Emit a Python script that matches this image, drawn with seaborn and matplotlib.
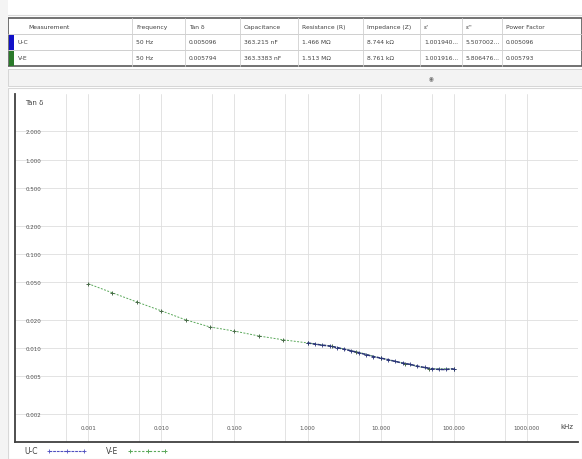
import matplotlib
matplotlib.use("Agg")
import matplotlib.pyplot as plt
from matplotlib.patches import Rectangle
from matplotlib.ticker import FixedLocator, FormatStrFormatter, NullFormatter
import seaborn as sns
import pandas as pd

# ---------------- data ----------------
table_headers = ["Measurement", "Frequency", "Tan δ", "Capacitance", "Resistance (R)",
                 "Impedance (Z)", "ε'", "ε''", "Power Factor"]
row_uc = ["U-C", "50 Hz", "0.005096", "363.215 nF", "1.466 MΩ", "8.744 kΩ",
          "1.001940...", "5.507002...", "0.005096"]
row_ve = ["V-E", "50 Hz", "0.005794", "363.3383 nF", "1.513 MΩ", "8.761 kΩ",
          "1.001916...", "5.806476...", "0.005793"]

# V-E series (frequency in kHz, Tan δ)
ve_freq = [0.001, 0.00215, 0.00464, 0.01, 0.0215, 0.0464, 0.1, 0.215, 0.464, 1.0,
           2.15, 4.64, 10.0, 21.5, 46.4, 100.0]
ve_tan = [0.0482, 0.0385, 0.0308, 0.0248, 0.0199, 0.0167, 0.0151, 0.0134, 0.0122, 0.0113,
          0.0104, 0.0091, 0.0078, 0.0068, 0.0060, 0.0060]

# U-C series (dense sweep at higher frequency)
uc_freq = [1.0, 1.26, 1.58, 2.0, 2.51, 3.16, 3.98, 5.01, 6.31, 7.94, 10.0,
           12.6, 15.8, 20.0, 25.1, 31.6, 39.8, 50.1, 63.1, 79.4, 100.0]
uc_tan = [0.0113, 0.0110, 0.0107, 0.0105, 0.0101, 0.0097, 0.0093, 0.0089, 0.0085, 0.0081,
          0.0078, 0.0075, 0.0072, 0.0069, 0.0067, 0.0064, 0.0062, 0.0060, 0.0059, 0.0059,
          0.0060]

y_ticks = [0.002, 0.005, 0.01, 0.02, 0.05, 0.1, 0.2, 0.5, 1.0, 2.0]
x_major = [0.001, 0.01, 0.1, 1.0, 10.0, 100.0, 1000.0]
x_minor = [0.0005, 0.005, 0.05, 0.5, 5.0, 50.0, 500.0]

# ---------------- figure ----------------
sns.set_theme(style="white")
plt.rcParams['font.family'] = ['DejaVu Sans']
W, H = 582, 460
fig = plt.figure(figsize=(W / 100, H / 100), dpi=100)
fig.patch.set_facecolor("white")

# UI layer in pixel coordinates
ui = fig.add_axes([0, 0, 1, 1], zorder=0)
ui.set_xlim(0, W)
ui.set_ylim(H, 0)
ui.axis("off")

ui.plot([8, W], [16, 16], color="#d8d8d8", lw=0.8)
ui.add_patch(Rectangle((8, 19), W - 8, 48, facecolor="white", edgecolor="#5a5a5a", lw=1.2))
col_x = [8, 132, 185, 240, 298, 363, 420, 462, 502, W]
row_y = [19, 35, 51, 67]
for yy in row_y[1:-1]:
    ui.plot([8, W], [yy, yy], color="#c8c8c8", lw=0.6)
for xx in col_x[1:-1]:
    ui.plot([xx, xx], [19, 67], color="#d0d0d0", lw=0.6)
ui.add_patch(Rectangle((8.5, 36), 5, 14.5, facecolor="#1010c8", edgecolor="none"))
ui.add_patch(Rectangle((8.5, 51.5), 5, 15, facecolor="#2a7a2a", edgecolor="none"))

fs = 4.3
for i, h in enumerate(table_headers):
    x0 = col_x[i] + (20 if i == 0 else 4)
    ui.text(x0, 27.5, h, fontsize=fs, color="#404040", va="center", ha="left")
for r, row in enumerate([row_uc, row_ve]):
    yc = 43 + r * 16
    for i, v in enumerate(row):
        x0 = col_x[i] + (10 if i == 0 else 4)
        ui.text(x0, yc, v, fontsize=fs, color="#404040", va="center", ha="left")

ui.add_patch(Rectangle((8, 70), W - 8, 17, facecolor="#f3f3f3", edgecolor="#d0d0d0", lw=0.6))
ui.text(431, 78.5, "◉", fontsize=4, color="#707070", ha="center", va="center")
ui.add_patch(Rectangle((8, 89), W - 8, H - 89, facecolor="white", edgecolor="#d8d8d8", lw=0.8))
ui.add_patch(Rectangle((0, 0), 8, H, facecolor="#f4f4f4", edgecolor="none"))

# ---------------- chart ----------------
ax = fig.add_axes([15 / W, (H - 443) / H, (578 - 15) / W, (443 - 95) / H], zorder=2)
ax.set_facecolor("white")

df_ve = pd.DataFrame({"Frequency": ve_freq, "Tan": ve_tan})
df_uc = pd.DataFrame({"Frequency": uc_freq, "Tan": uc_tan})

sns.lineplot(data=df_ve, x="Frequency", y="Tan", ax=ax, color="#5aa85a", marker="+",
             markersize=3.5, markeredgewidth=0.7, markeredgecolor="#4a6a4a",
             linestyle=(0, (2, 1.5)), linewidth=0.7, label="V-E", zorder=3)
sns.lineplot(data=df_uc, x="Frequency", y="Tan", ax=ax, color="#2a3478", marker="+",
             markersize=2.5, markeredgewidth=0.6, markeredgecolor="#2a3478",
             linestyle=(0, (2.5, 0.8)), linewidth=1.1, label="U-C", zorder=4)

ax.set_xscale("log")
ax.set_yscale("log")
ax.set_xlim(1e-4, 5000)
ax.set_ylim(0.001, 5)

ax.xaxis.set_major_locator(FixedLocator(x_major))
ax.xaxis.set_minor_locator(FixedLocator(x_minor))
ax.xaxis.set_major_formatter(FormatStrFormatter("%.3f"))
ax.xaxis.set_minor_formatter(NullFormatter())
ax.yaxis.set_major_locator(FixedLocator(y_ticks))
ax.yaxis.set_minor_locator(FixedLocator([]))
ax.yaxis.set_major_formatter(FormatStrFormatter("%.3f"))

ax.grid(True, which="both", axis="x", color="#dedede", lw=0.6)
ax.grid(True, which="major", axis="y", color="#dedede", lw=0.6)
ax.set_axisbelow(True)

for s in ["top", "right"]:
    ax.spines[s].set_visible(False)
for s in ["left", "bottom"]:
    ax.spines[s].set_color("#404040")
    ax.spines[s].set_linewidth(1.3)

ax.tick_params(axis="both", which="both", direction="inout", length=5, width=0.8,
               color="#404040", labelsize=4, labelcolor="#505050")
ax.tick_params(axis="y", pad=-10)
ax.tick_params(axis="x", pad=-11)
for lab in ax.get_yticklabels():
    lab.set_horizontalalignment("left")
for lab in ax.get_xticklabels():
    lab.set_verticalalignment("bottom")

ax.set_xlabel("")
ax.set_ylabel("")
ax.text(0.018, 0.985, "Tan δ", transform=ax.transAxes, fontsize=5,
        color="#404040", ha="left", va="top")
fig.text(567 / W, 1 - 427 / H, "kHz", fontsize=5, color="#404040", ha="center", va="center")

handles, labels = ax.get_legend_handles_labels()
order = [labels.index("U-C"), labels.index("V-E")]
leg = ax.legend([handles[i] for i in order], [labels[i] for i in order],
                loc="center left", bbox_to_anchor=(24 / W, 1 - 452 / H),
                bbox_transform=fig.transFigure, ncol=2, frameon=False, fontsize=5.5,
                handlelength=5.2, handletextpad=1.2, columnspacing=2.6, numpoints=3,
                labelcolor="#404040", markerfirst=False, borderaxespad=0, borderpad=0)
for ln, c in zip(leg.get_lines(), ["#5050c0", "#5aa85a"]):
    ln.set_color(c)
    ln.set_markeredgecolor(c)
    ln.set_markersize(3.5)
    ln.set_linewidth(0.8)

fig.savefig("out.png", dpi=100, facecolor=fig.get_facecolor())
